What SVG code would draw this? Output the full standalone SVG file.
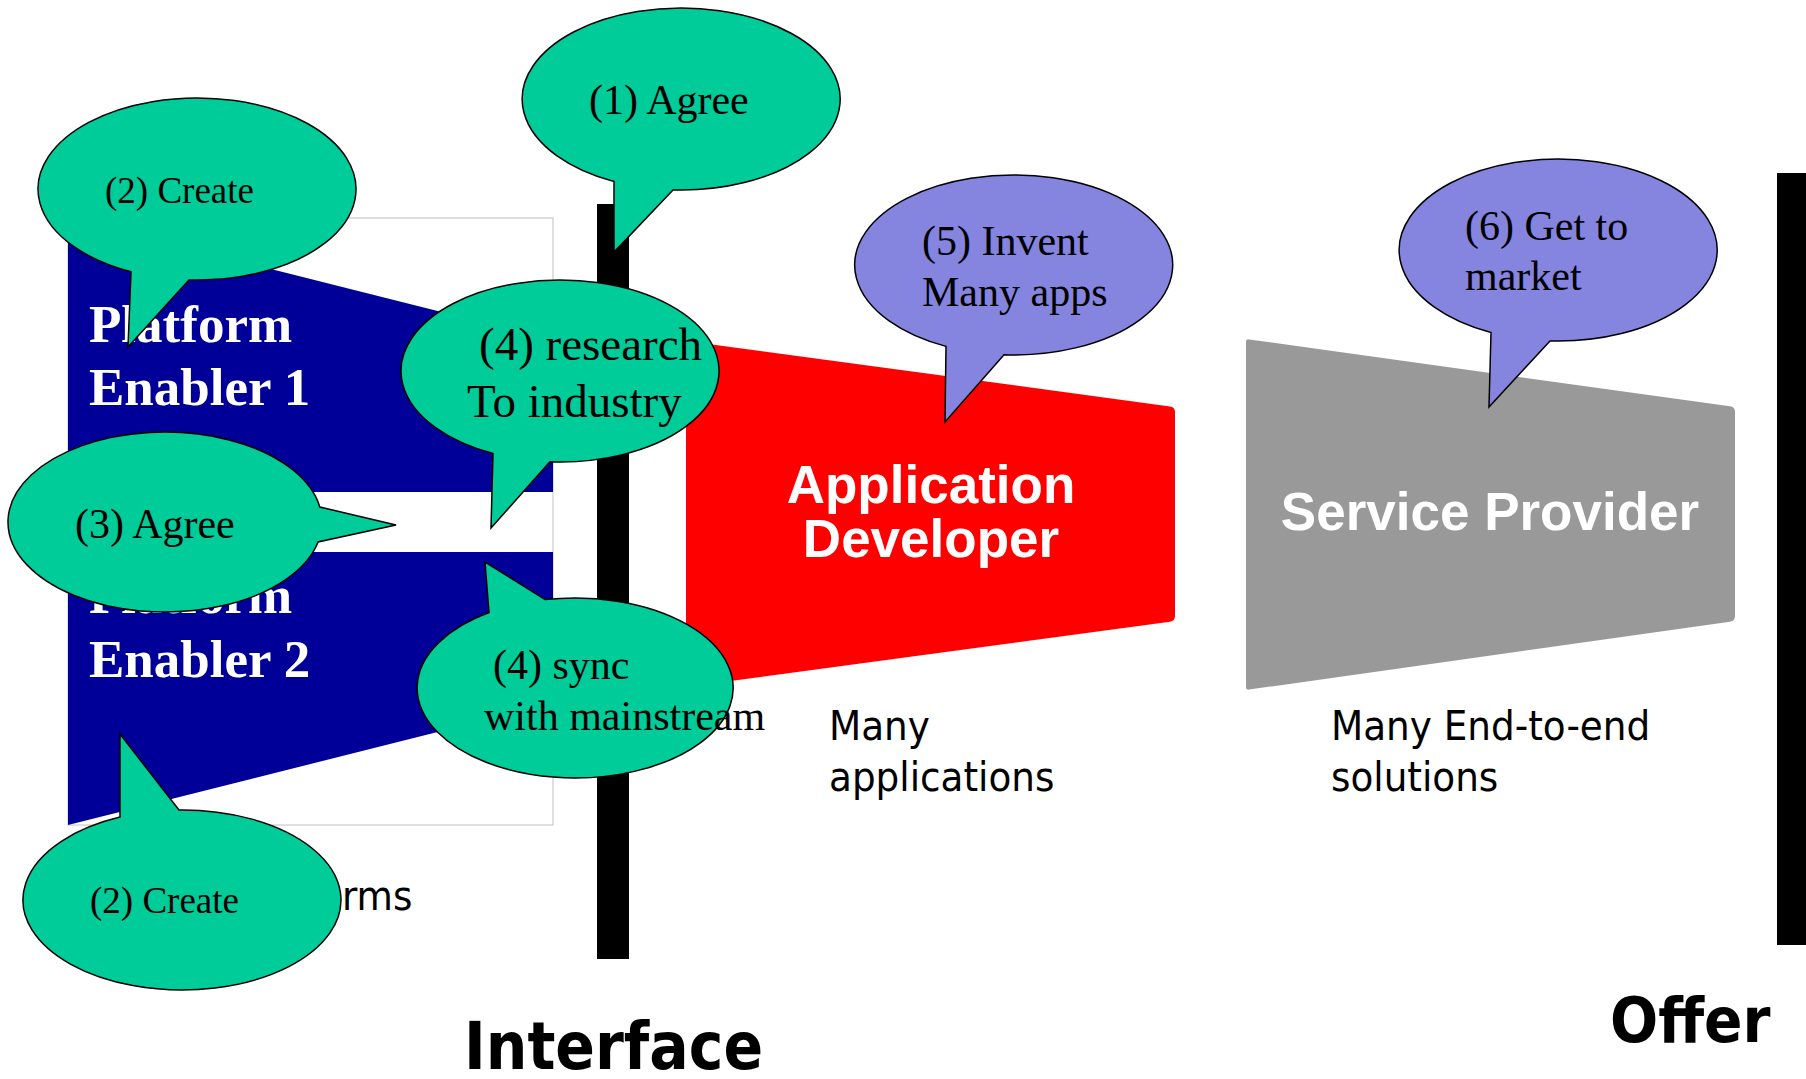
<svg xmlns="http://www.w3.org/2000/svg" width="1806" height="1079" viewBox="0 0 1806 1079">
<style>
.green{fill:#00CC99;stroke:#000;stroke-width:1.5;stroke-linejoin:miter}
.purple{fill:#8585E0;stroke:#000;stroke-width:1.5;stroke-linejoin:miter}
.bt{font-family:'Liberation Serif','Times New Roman',serif;font-size:42px;fill:#000}
.sm{font-size:37px}
.lg{font-size:47px}
.pe{font-family:'Liberation Serif','Times New Roman',serif;font-size:53px;font-weight:bold;fill:#fff}
.role{font-family:'Liberation Sans',Arial,sans-serif;font-size:53px;font-weight:bold;fill:#fff}
.lbl{font-family:'DejaVu Sans Condensed','DejaVu Sans',sans-serif;font-stretch:condensed;font-size:41.5px;fill:#000}
.big{font-family:'DejaVu Sans Condensed','DejaVu Sans',sans-serif;font-stretch:condensed;font-size:63px;font-weight:bold;fill:#000}
</style>
<rect width="1806" height="1079" fill="#fff"/>
<g id="platform-frame">
<rect x="68" y="218" width="485" height="607" fill="#fff" stroke="#c0c0c0" stroke-width="1"/>
</g>
<g id="platform-enabler-1">
<path d="M68,218 L553,340 L553,492 L68,492 Z" fill="#000099"/>
<text class="pe" x="89" y="342">Platform</text>
<text class="pe" x="89" y="405">Enabler 1</text>
</g>
<g id="platform-enabler-2">
<path d="M68,552 L553,552 L553,703 L68,825 Z" fill="#000099"/>
<text class="pe" x="89" y="613">Platform</text>
<text class="pe" x="89" y="677">Enabler 2</text>
</g>
<g id="platforms-label">
<text class="lbl" x="342" y="910">rms</text>
</g>
<g id="interface-bar">
<rect x="597" y="204" width="32" height="755" fill="#000"/>
<text class="big" x="464" y="1069" style="font-size:65px">Interface</text>
</g>
<g id="application-developer">
<path d="M686,341 L1170,406.4 Q1175,407 1175,412 L1175,616 Q1175,621 1170,621.7 L686,687 Z" fill="#FF0000"/>
<text class="role" x="931" y="503" text-anchor="middle">Application</text>
<text class="role" x="931" y="557" text-anchor="middle">Developer</text>
</g>
<g id="applications-label">
<text class="lbl" x="829" y="740">Many</text>
<text class="lbl" x="829" y="791">applications</text>
</g>
<g id="service-provider">
<path d="M1249,339.4 L1730,406.3 Q1735,407 1735,412 L1735,616 Q1735,621 1730,621.7 L1249,689.6 Q1246,690 1246,687 L1246,342 Q1246,339 1249,339.4 Z" fill="#999999"/>
<text class="role" x="1490" y="530" text-anchor="middle">Service Provider</text>
</g>
<g id="solutions-label">
<text class="lbl" x="1331" y="740">Many End-to-end</text>
<text class="lbl" x="1331" y="791">solutions</text>
</g>
<g id="offer-bar">
<rect x="1777" y="173" width="29" height="772" fill="#000"/>
<text class="big" x="1610" y="1042">Offer</text>
</g>
<g id="connectors"></g>
<g id="bubble-1-agree">
<path class="green" d="M614,181.5 A159,91 0 1 1 673,189.9 L614,252 Z"/>
<text class="bt" x="589" y="114">(1) Agree</text>
</g>
<g id="bubble-2-create-top">
<path class="green" d="M131,271.8 A159,91 0 1 1 189,279.9 L128,347 Z"/>
<text class="bt sm" x="105" y="203">(2) Create</text>
</g>
<g id="bubble-4-research">
<path class="green" d="M493,453.5 A159,91 0 1 1 550,461.8 L491,528 Z"/>
<text class="bt lg" x="479" y="360">(4) research</text>
<text class="bt lg" x="467" y="417">To industry</text>
</g>
<g id="bubble-3-agree">
<path class="green" d="M319.8,507 A157,90 0 1 0 318.1,542 L396,525 Z"/>
<text class="bt" x="75" y="538">(3) Agree</text>
</g>
<g id="bubble-4-sync">
<path class="green" d="M545,599.6 A158,90 0 1 1 489,612.5 L485,562 Z"/>
<text class="bt" x="493" y="679">(4) sync</text>
<text class="bt" x="484" y="730">with mainstream</text>
</g>
<g id="bubble-2-create-bottom">
<path class="green" d="M179,810 A159,90 0 1 1 120,817.1 L120,734 Z"/>
<text class="bt sm" x="90" y="913">(2) Create</text>
</g>
<g id="bubble-5-invent">
<path class="purple" d="M946,346.4 A159,90 0 1 1 1004,354.8 L945,422 Z"/>
<text class="bt" x="922" y="255">(5) Invent</text>
<text class="bt" x="922" y="306">Many apps</text>
</g>
<g id="bubble-6-market">
<path class="purple" d="M1491,332.5 A159,91 0 1 1 1550,340.9 L1489,407 Z"/>
<text class="bt" x="1465" y="240">(6) Get to</text>
<text class="bt" x="1465" y="290">market</text>
</g>
</svg>
